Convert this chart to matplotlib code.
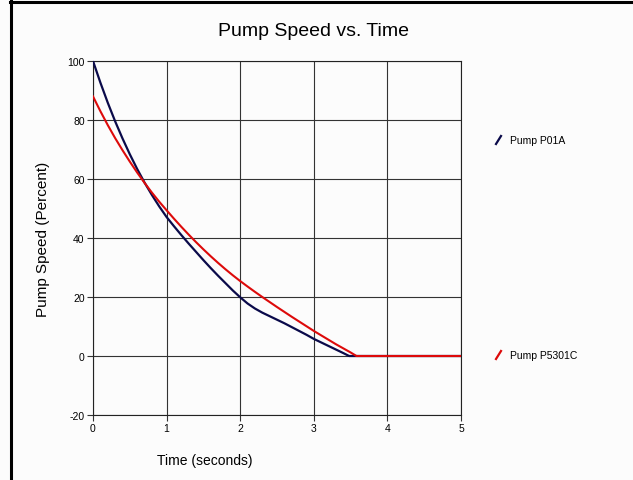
import numpy as np
import matplotlib
matplotlib.use("Agg")
import matplotlib.pyplot as plt
from matplotlib.lines import Line2D

plt.rcParams["font.family"] = ["Liberation Sans", "DejaVu Sans"]
plt.rcParams["axes.unicode_minus"] = False

# values (every 0.1 s)
t_p01a = [0, 0.1, 0.2, 0.3, 0.4, 0.5, 0.6, 0.7, 0.8, 0.9, 1.0, 1.1, 1.2, 1.3, 1.4, 1.5,
          1.6, 1.7, 1.8, 1.9, 2.0, 2.1, 2.2, 2.3, 2.4, 2.5, 2.6, 2.7, 2.8, 2.9, 3.0,
          3.1, 3.2, 3.3, 3.4, 3.48, 4.0, 5.0]
s_p01a = [100, 92.7, 85.9, 79.6, 73.8, 68.4, 63.4, 58.8, 54.6, 50.7, 47.1, 44.0, 41.0, 38.1, 35.3, 32.5,
          29.8, 27.2, 24.7, 22.2, 19.9, 17.8, 16.1, 14.7, 13.5, 12.3, 11.1, 9.8, 8.5, 7.2, 5.8,
          4.6, 3.4, 2.2, 1.0, 0, 0, 0]
t_p5301c = [0, 0.1, 0.2, 0.3, 0.4, 0.5, 0.6, 0.7, 0.8, 0.9, 1.0, 1.1, 1.2, 1.3, 1.4, 1.5,
            1.6, 1.7, 1.8, 1.9, 2.0, 2.1, 2.2, 2.3, 2.4, 2.5, 2.6, 2.7, 2.8, 2.9, 3.0,
            3.1, 3.2, 3.3, 3.4, 3.5, 3.58, 4.0, 5.0]
s_p5301c = [88, 83.0, 78.3, 73.9, 69.8, 65.9, 62.2, 58.7, 55.4, 52.3, 49.4, 46.55, 43.8, 41.15, 38.6, 36.15,
            33.8, 31.55, 29.4, 27.35, 25.4, 23.55, 21.75, 20.0, 18.3, 16.6, 14.95, 13.3, 11.7, 10.1, 8.5,
            7.0, 5.5, 4.0, 2.6, 1.2, 0, 0, 0]
series_names = ["Pump P01A", "Pump P5301C"]

W, H = 633, 481
fig = plt.figure(figsize=(W / 100, H / 100), dpi=100, facecolor="#fcfcfc")
ax = fig.add_axes([93 / W, 1 - 416 / H, (461 - 93) / W, (416 - 62) / H])
ax.set_facecolor("#fcfcfc")

ax.plot(t_p01a, s_p01a, color="#0a0a4a", lw=1.6, zorder=3, solid_joinstyle="round")
ax.plot(t_p5301c, s_p5301c, color="#dd0a0a", lw=1.5, zorder=4, solid_joinstyle="round")

ax.set_xlim(0, 5)
ax.set_ylim(-20, 100)
ax.set_xticks(range(0, 6))
ax.set_yticks(range(-20, 101, 20))
ax.grid(True, color="#333333", lw=0.8)
ax.set_axisbelow(True)
ax.tick_params(labelsize=7.5, length=4, width=0.8, color="#333333", pad=2)
for sp in ax.spines.values():
    sp.set_color("#222222")
    sp.set_linewidth(0.8)

fig.text(43 / W, 1 - 239 / H, "Pump Speed (Percent)", ha="center", va="center",
         rotation=90, fontsize=11)
fig.text(205 / W, 1 - 461 / H, "Time (seconds)", ha="center", va="center", fontsize=10)
fig.text(314 / W, 1 - 32 / H, "Pump Speed vs. Time", ha="center", va="center", fontsize=14)

# legend entries on the right
for name, col, ypx in [(series_names[0], "#0a0a4a", 141), (series_names[1], "#dd0a0a", 356)]:
    fig.add_artist(Line2D([496 / W, 501 / W], [1 - (ypx + 4) / H, 1 - (ypx - 4) / H],
                          color=col, lw=1.6))
    fig.text(510 / W, 1 - ypx / H, name, ha="left", va="center", fontsize=7.5)

# frame lines on left and top
fig.add_artist(Line2D([11 / W, 11 / W], [0, 1 - 2 / H], color="black", lw=2.2))
fig.add_artist(Line2D([10 / W, 1], [1 - 3 / H, 1 - 3 / H], color="black", lw=2.2))

fig.savefig("out.png", dpi=100, facecolor=fig.get_facecolor())
